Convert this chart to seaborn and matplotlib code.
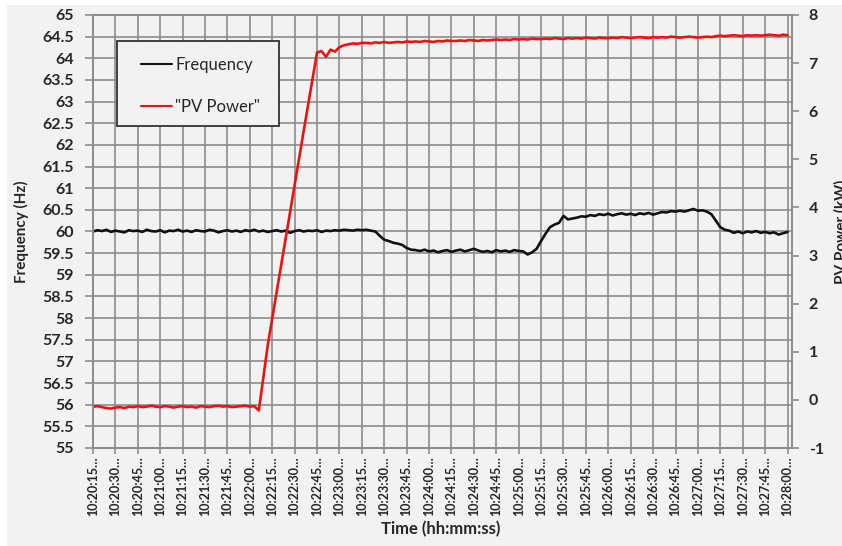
import numpy as np
import pandas as pd
import matplotlib
matplotlib.use("Agg")
import matplotlib.pyplot as plt
import seaborn as sns
from matplotlib.patches import Rectangle
from matplotlib.ticker import FuncFormatter

# Sample times in seconds after 10:20:15 (3 s logging interval)
elapsed_s = np.arange(0, 468, 3)

# Grid frequency (Hz)
frequency_hz = [
    # 10:20:15 - 10:23:21
    60.00, 60.03, 60.01, 60.04, 59.99, 60.02, 60.00, 59.98, 60.03, 60.01,
    60.02, 59.99, 60.04, 60.01, 60.00, 60.03, 59.98, 60.02, 60.01, 60.04,
    60.00, 60.02, 59.99, 60.03, 60.01, 60.00, 60.04, 60.02, 59.98, 60.01,
    60.03, 60.00, 60.02, 59.99, 60.03, 60.01, 60.04, 60.00, 60.02, 59.99,
    60.01, 60.03, 60.00, 60.02, 59.97, 60.01, 60.03, 60.00, 60.02, 60.01,
    60.03, 59.99, 60.02, 60.01, 60.03, 60.02, 60.04, 60.03, 60.02, 60.04,
    60.03, 60.04, 60.02,
    # step down
    60.00, 59.90, 59.81, 59.78, 59.74, 59.72, 59.69, 59.62, 59.58, 59.57,
    # low plateau
    59.55, 59.58, 59.54, 59.56, 59.52, 59.55, 59.57, 59.53, 59.56, 59.58,
    59.54, 59.57, 59.60, 59.56, 59.53, 59.55, 59.52, 59.57, 59.54, 59.56,
    59.53, 59.57, 59.55, 59.54,
    # step up and high plateau
    59.47, 59.52, 59.60, 59.78, 59.95, 60.10, 60.16, 60.20, 60.36, 60.28,
    60.30, 60.32, 60.35, 60.34, 60.38, 60.36, 60.40, 60.38, 60.41, 60.37,
    60.40, 60.42, 60.39, 60.41, 60.38, 60.42, 60.40, 60.43, 60.39, 60.42,
    60.45, 60.44, 60.47, 60.46, 60.48, 60.46, 60.49, 60.52, 60.48, 60.49,
    # return to nominal
    60.46, 60.40, 60.25, 60.10, 60.04, 60.02, 59.97, 60.00, 59.96, 60.00,
    59.98, 60.01, 59.97, 59.99, 59.96, 59.98, 59.93, 59.96, 59.99,
]

# PV output power (kW)
pv_power_kw = [
    # inverter off
    -0.14, -0.13, -0.15, -0.17, -0.18, -0.16, -0.15, -0.17, -0.14, -0.15,
    -0.13, -0.15, -0.14, -0.12, -0.14, -0.15, -0.13, -0.14, -0.16, -0.14,
    -0.13, -0.15, -0.14, -0.16, -0.13, -0.14, -0.15, -0.13, -0.12, -0.14,
    -0.13, -0.15, -0.14, -0.13, -0.12, -0.14, -0.13,
    # ramp up
    -0.22, 0.45, 1.14, 1.70, 2.25, 2.80, 3.36, 3.91, 4.47, 5.02,
    5.58, 6.13, 6.69, 7.22,
    # settling
    7.25, 7.13, 7.28, 7.24, 7.33, 7.37, 7.39, 7.41, 7.40, 7.42,
    # full output
    7.42, 7.41, 7.43, 7.42, 7.44, 7.42, 7.43, 7.44, 7.43, 7.45,
    7.44, 7.45, 7.44, 7.46, 7.45, 7.44, 7.46, 7.45, 7.47, 7.46,
    7.46, 7.47, 7.46, 7.48, 7.47, 7.46, 7.48, 7.47, 7.48, 7.49,
    7.48, 7.49, 7.48, 7.50, 7.49, 7.50, 7.49, 7.51, 7.50, 7.50,
    7.51, 7.50, 7.52, 7.51, 7.50, 7.52, 7.51, 7.52, 7.51, 7.53,
    7.52, 7.51, 7.53, 7.52, 7.52, 7.53, 7.52, 7.54, 7.53, 7.52,
    7.53, 7.54, 7.53, 7.52, 7.54, 7.53, 7.54, 7.53, 7.55, 7.54,
    7.53, 7.54, 7.55, 7.54, 7.53, 7.54, 7.55, 7.54, 7.56, 7.57,
    7.56, 7.57, 7.58, 7.57, 7.56, 7.58, 7.57, 7.58, 7.57, 7.58,
    7.59, 7.58, 7.57, 7.59, 7.58,
]

tick_seconds = np.arange(0, 466, 15)
tick_labels = [
    "10:20:15…", "10:20:30…", "10:20:45…", "10:21:00…", "10:21:15…",
    "10:21:30…", "10:21:45…", "10:22:00…", "10:22:15…", "10:22:30…",
    "10:22:45…", "10:23:00…", "10:23:15…", "10:23:30…", "10:23:45…",
    "10:24:00…", "10:24:15…", "10:24:30…", "10:24:45…", "10:25:00…",
    "10:25:15…", "10:25:30…", "10:25:45…", "10:26:00…", "10:26:15…",
    "10:26:30…", "10:26:45…", "10:27:00…", "10:27:15…", "10:27:30…",
    "10:27:45…", "10:28:00…",
]
freq_ticks = np.arange(55, 65.01, 0.5)
power_ticks = np.arange(-1, 8.01, 1)

BG = "#f2f2f2"
GRID = "#8c8c8c"
FONT = "Lato"

sns.set_style("ticks")
plt.rcParams["font.family"] = [FONT, "DejaVu Sans"]

df = pd.DataFrame({"t": elapsed_s, "Frequency": frequency_hz, "PV": pv_power_kw})

fig = plt.figure(figsize=(8.42, 5.46), dpi=100, facecolor="white")
fig.patches.append(Rectangle((7 / 842, 0), 1, 1 - 5 / 546, transform=fig.transFigure,
                             color=BG, zorder=-10))

W, H = 699, 433  # plot area size in pixels
ax = fig.add_axes([93 / 842, 1 - 448 / 546, W / 842, H / 546])
ax.set_facecolor(BG)
sns.lineplot(data=df, x="t", y="Frequency", ax=ax, color="#111111", lw=1.9,
             legend=False)
ax.set_xlim(0, 468)
ax.set_ylim(55, 65)
ax.set_xticks(tick_seconds)
ax.set_xticklabels(tick_labels, rotation=90, fontweight="bold", fontsize=9)
ax.set_yticks(freq_ticks)
ax.yaxis.set_major_formatter(FuncFormatter(lambda v, p: f"{v:g}"))
for lbl in ax.get_yticklabels():
    lbl.set_fontweight("bold")
ax.tick_params(axis="y", length=6, width=1.2, color=GRID, labelsize=11.5, pad=8)
ax.tick_params(axis="x", length=4, width=1.2, color=GRID, pad=2)
ax.grid(True, color=GRID, lw=1.2)
ax.set_axisbelow(True)
ax.set_xlabel("")
ax.set_ylabel("")
for s in ax.spines.values():
    s.set_color(GRID)
    s.set_linewidth(1.2)

ax2 = ax.twinx()
sns.lineplot(data=df, x="t", y="PV", ax=ax2, color="#ee1111", lw=1.9, legend=False)
ax2.set_ylim(-1, 8)
ax2.set_yticks(power_ticks)
ax2.yaxis.set_major_formatter(FuncFormatter(lambda v, p: f"{v:g}"))
for lbl in ax2.get_yticklabels():
    lbl.set_fontweight("bold")
ax2.tick_params(axis="y", length=5, width=1.2, color=GRID, labelsize=11.5, pad=7)
ax2.set_ylabel("")
for s in ax2.spines.values():
    s.set_color(GRID)
    s.set_linewidth(1.2)

# Legend box drawn as an opaque panel, entries placed inside it
ax2.add_patch(Rectangle(((117 - 93) / W, 1 - (126 - 15) / H), (279 - 117) / W,
                        (126 - 41) / H, transform=ax2.transAxes, facecolor=BG,
                        edgecolor="#333333", lw=1.3, zorder=4))
h1 = ax.get_lines()[0]
h2 = ax2.get_lines()[0]
leg = ax2.legend([h1, h2], ["Frequency", '"PV Power"'], loc="upper left",
                 bbox_to_anchor=((141 - 93) / W, 1 - (57 - 15) / H), borderaxespad=0,
                 frameon=False, handlelength=1.85, handletextpad=0.2,
                 labelspacing=1.55, borderpad=0, prop=dict(family=FONT, size=12))
leg.set_zorder(6)
for line in leg.get_lines():
    line.set_linewidth(1.5)

fig.text(21 / 842, 1 - 232 / 546, "Frequency (Hz)", rotation=90, ha="center",
         va="center", fontsize=11, fontweight="bold")
fig.text(841 / 842, 1 - 232 / 546, "PV Power (kW)", rotation=90, ha="center",
         va="center", fontsize=11, fontweight="bold")
fig.text(441 / 842, 1 - 529 / 546, "Time (hh:mm:ss)", ha="center", va="center",
         fontsize=12, fontweight="bold")

fig.savefig("out.png", dpi=100, facecolor=fig.get_facecolor())
